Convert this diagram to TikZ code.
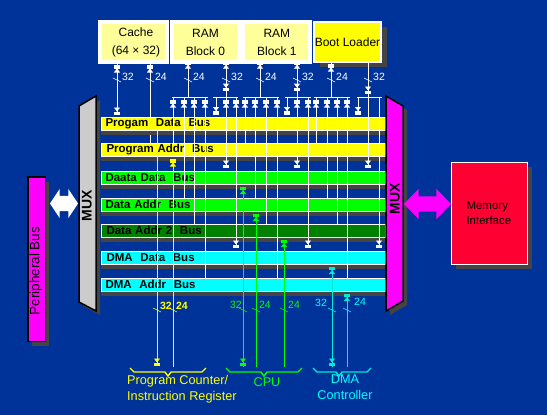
\documentclass[tikz,border=0pt]{standalone}
\usepackage{fontspec}
\setmainfont{Liberation Sans}
\usetikzlibrary{arrows.meta, positioning, shadows, shapes.arrows, backgrounds, decorations.markings}
\definecolor{pagefill}{RGB}{0,51,153}
\definecolor{palefill}{RGB}{255,255,153}
\definecolor{shadeline}{RGB}{68,68,68}
\definecolor{muxfill}{RGB}{204,204,204}
\definecolor{magfill}{RGB}{255,0,255}
\definecolor{memfill}{RGB}{255,0,51}
\definecolor{prgbus}{RGB}{255,255,0}
\definecolor{datbus}{RGB}{0,255,0}
\definecolor{darkbus}{RGB}{0,128,0}
\definecolor{dmabus}{RGB}{0,255,255}
\definecolor{dmaline}{RGB}{0,235,210}

\begin{document}
\begin{tikzpicture}[
  x=1pt, y=-1pt,
  blockhead/.tip={Triangle[length=4pt,width=6pt,sep=0pt]Rectangle[length=3.5pt,width=6pt]},
  wire/.style={line width=0.8pt},
  tipup/.style={postaction={decorate,decoration={markings,mark=at position #1 with {\arrowreversed{blockhead}}}}},
  tipdown/.style={postaction={decorate,decoration={markings,mark=at position #1 with {\arrow{blockhead}}}}},
  topbox/.style={rectangle, fill=palefill, align=center, inner sep=0pt, font=\fontsize{12}{18}\selectfont},
  busbar/.style={rectangle, draw=white, line width=0.6pt, outer sep=0pt, minimum width=284pt, minimum height=13.5pt,
                 text width=275pt, align=left, inner ysep=0pt, inner xsep=4.5pt,
                 font=\fontsize{11.5}{12}\selectfont\bfseries,
                 general shadow={fill=shadeline, shadow xshift=0pt, shadow yshift=-4.5pt}},
  muxtext/.style={rotate=90, font=\fontsize{14}{14}\selectfont\bfseries},
  buslabel/.style={font=\fontsize{10.5}{11}\selectfont, inner sep=0pt},
  endlabel/.style={font=\fontsize{12.7}{15.5}\selectfont, inner sep=0pt},
  node distance=8pt,
]
\begin{scope}[on background layer]
  \fill[pagefill] (0,0) rectangle (547,415);
\end{scope}
\coordinate (combline) at (0,97);

% memories along the top
\node[topbox, draw=white, line width=4pt, minimum width=67pt, minimum height=40pt] (cache) at (133.5,42) {\hspace*{5pt}Cache\\\hspace*{5pt}(64 × 32)};
\node[rectangle, fill=white, outer sep=0pt, minimum width=142pt, minimum height=44pt] (ramframe) at (241,42) {};
\node[topbox, minimum width=63pt, minimum height=36pt] (ramzero) at (205.5,42) {RAM\\Block 0};
\node[topbox, minimum width=63pt, minimum height=36pt, right=8pt of ramzero] (ramone) {RAM\\Block 1};
\node[topbox, fill=prgbus, draw=white, line width=2pt, minimum width=67pt, minimum height=40pt,
      general shadow={fill=shadeline, shadow xshift=6pt, shadow yshift=-5pt}] (boot) at (347.5,42) {Boot Loader};

% buses
\node[busbar, fill=prgbus, anchor=north west] (prgdata) at (101,117) {Progam\ \ Data\ \ Bus};
\node[busbar, fill=prgbus, below=12.5pt of prgdata] (prgaddr) {\hspace*{1pt}Program Addr\ \ Bus};
\node[busbar, fill=datbus, below=14.5pt of prgaddr] (datdata) {Daata Data\ \ Bus};
\node[busbar, fill=datbus, below=13.5pt of datdata] (datone) {Data Addr\ \ Bus};
\node[busbar, fill=darkbus, below=12.5pt of datone] (dattwo) {\hspace*{1pt}Data Addr 2\ \ Bus};
\node[busbar, fill=dmabus, below=13.5pt of dattwo] (dmadata) {\hspace*{1pt}DMA\ \ Data\ \ Bus};
\node[busbar, fill=dmabus, below=13.5pt of dmadata] (dmaaddr) {DMA\ \ Addr\ \ Bus};

% the two cache wires run behind the first bus
\begin{scope}[on background layer]
  \draw[white, wire, tipup=1pt, -blockhead, shorten >=2pt] (117,0 |- cache.south) -- (117,0 |- prgdata.north);
  \draw[white, wire, tipup=1pt] (150,0 |- cache.south) -- (150,0 |- prgaddr.north);
\end{scope}

% multiplexers
\fill[shadeline, shift={(4,4)}] (79,106) -- (96,96) -- (96,311) -- (79,302) -- cycle;
\draw[black, line width=1.5pt, fill=muxfill] (79,106) -- (96,96) -- (96,311) -- (79,302) -- cycle;
\node[muxtext] (muxa) at (87,206) {MUX};
\fill[shadeline, shift={(4,4)}] (386,96) -- (403,106) -- (403,301) -- (386,311) -- cycle;
\draw[black, line width=1.5pt, fill=magfill] (386,96) -- (403,106) -- (403,301) -- (386,311) -- cycle;
\node[muxtext] (muxb) at (395,199) {MUX};

% left and right blocks
\node[rectangle, fill=magfill, draw=black, line width=1.5pt, minimum width=17.5pt, minimum height=164.5pt,
      general shadow={fill=shadeline, shadow xshift=4pt, shadow yshift=-5pt}] (periph) at (36.5,259) {};
\node[rotate=90, font=\fontsize{13.5}{14}\selectfont, inner sep=0pt] (periphtext) at (36,271) {Peripheral Bus};
\node[double arrow, fill=white, inner sep=0pt, minimum height=28pt,
      double arrow head extend=7pt, double arrow tip angle=113] (perarrow) at (64,203.5) {\rule{0pt}{15pt}};
\node[rectangle, fill=memfill, draw=white, line width=1pt, minimum width=76pt, minimum height=102pt, text width=46pt, align=left,
      inner xsep=0pt, font=\fontsize{11.5}{15}\selectfont,
      general shadow={fill=shadeline, shadow xshift=4pt, shadow yshift=-4pt}] (memory) at (489.5,213.5) {Memory\\Interface};
\node[double arrow, fill=magfill, inner sep=0pt, minimum height=47pt,
      double arrow head extend=7.5pt, double arrow tip angle=92] (memarrow) at (427.5,204) {\rule{0pt}{15pt}};

% wires up to the memories
\foreach \x/\b in {188/ramzero, 260/ramone, 331/boot}
  \draw[white, wire, tipup=1pt] (\x,0 |- \b.south) -- (\x,0 |- combline);
\draw[white, wire, tipup=1pt, tipdown=31pt] (226,0 |- ramzero.south) -- (226,0 |- combline);
\draw[white, wire, tipup=1pt, tipdown=31pt] (297,0 |- ramone.south) -- (297,0 |- combline);
\draw[white, wire, tipdown=31pt] (368,0 |- boot.south) -- (368,0 |- combline);

% combs
\foreach \a/\b in {172/208, 213/238, 243/279, 285/311, 314/350, 357/382}
  \draw[white, wire] (\a,0 |- combline) -- (\b,0 |- combline);
\foreach \x/\b in {173/prgaddr, 184/datone, 194/dattwo, 205/dmaaddr, 245/prgaddr, 255/datone, 266/dattwo, 277/dmaaddr,
                   316/prgaddr, 327/datone, 337/dattwo, 347/dmaaddr}
  \draw[white, wire, tipup=3pt] (\x,0 |- combline) -- (\x,0 |- \b.north);
\foreach \x in {216, 287, 358}
  \draw[white, wire, -blockhead, shorten >=2.5pt] (\x,0 |- combline) -- (\x,0 |- prgdata.north);
\foreach \x/\b in {226/datdata, 236/dmadata, 297/datdata, 308/dmadata}
  \draw[white, wire, tipup=3pt, -blockhead, shorten >=3pt] (\x,0 |- combline) -- (\x,0 |- \b.north);
\foreach \x/\b in {368/datdata, 379/dmadata}
  \draw[white, wire, -blockhead, shorten >=3pt] (\x,0 |- combline) -- (\x,0 |- \b.north);

% widths on the upper wires
\foreach \x/\t in {117/32, 150/24, 188/24, 226/32, 260/24, 297/32, 331/24, 368/32} {
  \draw[white, line width=0.6pt] (\x-4,78) -- (\x+4,82);
  \node[buslabel, white] (up\x) at (\x+11,77) {\t};
}

% wires from the lower units
\coordinate (unitline) at (0,367);
\draw[prgbus, wire, -blockhead, shorten >=1pt] (157,0 |- prgdata.south) -- (157,0 |- unitline);
\draw[prgbus, wire, -blockhead, shorten >=2.5pt] (173,0 |- unitline) -- (173,0 |- prgaddr.south);
\draw[datbus, wire, tipup=1pt, -blockhead, shorten >=2pt] (243,0 |- unitline) -- (243,0 |- datdata.south);
\draw[datbus, wire, -blockhead, shorten >=2pt] (256,0 |- unitline) -- (256,0 |- datone.south);
\draw[datbus, wire, -blockhead, shorten >=2pt] (284,0 |- unitline) -- (284,0 |- dattwo.south);
\draw[dmaline, wire, tipup=1pt, -blockhead, shorten >=2pt] (332,0 |- unitline) -- (332,0 |- dmadata.south);
\draw[dmaline, wire, -blockhead, shorten >=2pt] (347,0 |- unitline) -- (347,0 |- dmaaddr.south);

% widths on the lower wires
\foreach \x/\c/\lx/\ly/\t/\w in {157/prgbus/166/306/32/bfseries, 173/prgbus/182/306/24/bfseries,
                                 243/datbus/236/305/32/mdseries, 256/datbus/265/305/24/mdseries, 284/datbus/294/305/24/mdseries,
                                 332/dmabus/321/303/32/mdseries, 347/dmabus/360/302/24/mdseries} {
  \draw[\c, line width=0.6pt] (\x-4,308) -- (\x+4,312);
  \node[buslabel] at (\lx,\ly) (low\x) {\csname \w\endcsname\textcolor{\c}{\t}};
}

% unit braces and names
\draw[prgbus, line width=1.4pt] (130,368) -- (134,372) -- (165,372) -- (168,376) -- (171,372) -- (202,372) -- (206,368);
\draw[datbus, line width=1.4pt] (226,368) -- (230,372) -- (261,372) -- (264,376) -- (267,372) -- (298,372) -- (302,368);
\draw[dmaline, line width=1.4pt] (313,368) -- (317,372) -- (336,372) -- (339,376) -- (342,372) -- (367,372) -- (371,368);
\node[endlabel, prgbus, align=left, anchor=north west] (pcname) at (127,375.5) {Program Counter/\\Instruction Register};
\node[endlabel, datbus] (cpuname) at (267,382) {CPU};
\node[endlabel, dmabus, align=center, anchor=north] (dmaname) at (345,375) {DMA\\Controller};
\end{tikzpicture}
\end{document}
